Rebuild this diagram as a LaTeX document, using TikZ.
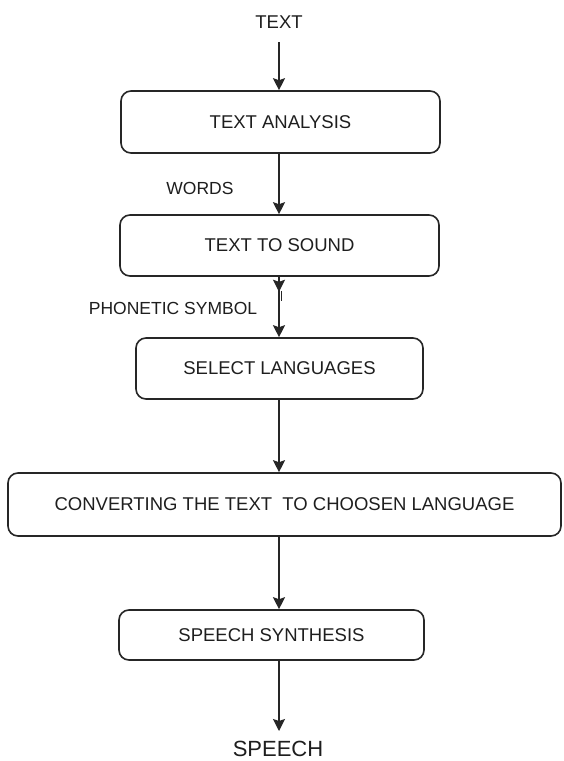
\documentclass[tikz,border=0pt]{standalone}
\usepackage{fontspec}
\setmainfont{Liberation Sans}
\usetikzlibrary{arrows.meta}
\definecolor{ln}{HTML}{262626}
\definecolor{tx}{HTML}{1E1E1E}
\tikzset{
  stepbox/.style={draw=ln, line width=1.6pt, rounded corners=10pt, inner sep=0pt, text=tx, font=\fontsize{18.5}{20}\selectfont},
  lbl/.style={inner sep=0pt, text=tx, font=\fontsize{17.5}{19}\selectfont},
  arr/.style={draw=ln, line width=1.6pt, -{Stealth[length=12pt,width=12pt,inset=2pt]}},
}
\begin{document}
\begin{tikzpicture}[x=1pt,y=-1pt]
\path[use as bounding box, fill=white] (0,0) rectangle (563,761);
\node[lbl, font=\fontsize{18.5}{20}\selectfont] (t) at (279,22) {TEXT};
\coordinate (top) at (279,42);
\node[stepbox, minimum width=319pt, minimum height=62pt] (b1) at (280.5,122) {TEXT ANALYSIS};
\node[stepbox, minimum width=319pt, minimum height=61pt] (b2) at (279.5,245.5) {TEXT TO SOUND};
\node[stepbox, minimum width=287pt, minimum height=61pt] (b3) at (279.5,368.5) {SELECT LANGUAGES};
\node[stepbox, minimum width=553pt, minimum height=63pt] (b4) at (284.5,504.5) {CONVERTING THE TEXT\ \ TO CHOOSEN LANGUAGE};
\node[stepbox, minimum width=305pt, minimum height=50pt] (b5) at (271.5,635) {SPEECH SYNTHESIS};
\node[lbl, font=\fontsize{22}{24}\selectfont] (sp) at (278,749) {SPEECH};
\coordinate (spt) at (279,731);
\node[lbl] (w) at (200,188) {WORDS};
\node[lbl] (ph) at (173,308) {PHONETIC SYMBOL};
\draw[arr] (top) -- (b1.north -| top);
\draw[arr] (b1.south -| top) -- (b2.north -| top);
\draw[arr] (b2.south -| top) -- (b3.north -| top);
\draw[arr] ([yshift=-1pt]b2.south -| top) -- ++(0,14);
\draw[draw=ln, line width=1pt] ([xshift=2pt,yshift=-14pt]b2.south -| top) -- ++(0,10);
\draw[arr] (b3.south -| top) -- (b4.north -| top);
\draw[arr] (b4.south -| top) -- (b5.north -| top);
\draw[arr] (b5.south -| top) -- (spt);
\end{tikzpicture}
\end{document}
